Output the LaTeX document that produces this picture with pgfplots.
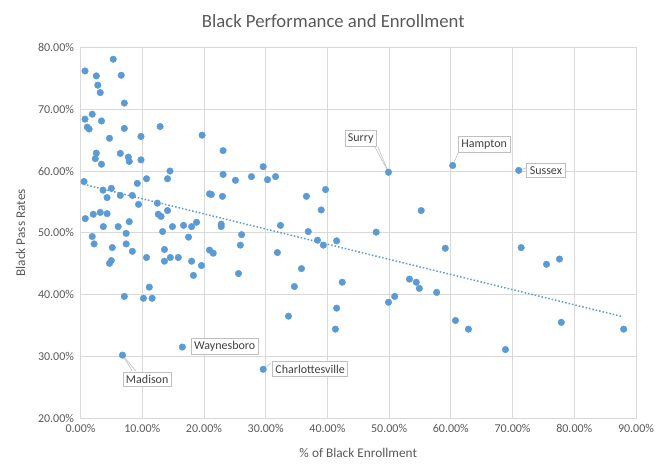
\documentclass[border=0pt]{standalone}
\usepackage{pgfplots}
\pgfplotsset{compat=1.18}
\usepackage{fontspec}
\setmainfont{Carlito}
\definecolor{pt}{HTML}{5B9BD5}
\definecolor{txt}{HTML}{595959}
\definecolor{grd}{HTML}{D9D9D9}
\definecolor{lblb}{HTML}{BFBFBF}
\definecolor{lblt}{HTML}{404040}
\begin{document}
\begin{tikzpicture}[x=1bp,y=1bp]
\useasboundingbox (0,0) rectangle (667,474);
\begin{axis}[
  at={(80.5bp,55.9bp)}, anchor=south west,
  scale only axis, width=555.5bp, height=370.6bp,
  xmin=0, xmax=90, ymin=20, ymax=80,
  xtick={0,10,...,90}, ytick={20,30,...,80},
  xticklabel={\pgfmathprintnumber[fixed,fixed zerofill,precision=2]{\tick}\%},
  yticklabel={\pgfmathprintnumber[fixed,fixed zerofill,precision=2]{\tick}\%},
  /pgf/number format/assume math mode=true,
  ticklabel style={font=\fontsize{12bp}{14bp}\selectfont, text=txt},
  xticklabel style={yshift=-3bp},
  yticklabel style={xshift=-3bp},
  major tick length=0pt,
  grid=major, major grid style={grd, line width=0.75bp},
  axis line style={grd, line width=0.75bp},
  clip=false,
  title={Black Performance and Enrollment},
  title style={font=\fontsize{18.7bp}{22bp}\selectfont, text=txt, at={(0.455,1)}, yshift=10bp},
  xlabel={\% of Black Enrollment},
  ylabel={Black Pass Rates},
  label style={font=\fontsize{13.3bp}{16bp}\selectfont, text=txt},
  xlabel style={yshift=-9bp},
  ylabel style={yshift=6bp},
]
\addplot[only marks, mark=*, mark size=3.3bp, mark options={fill=pt, draw=pt}] coordinates {
(5.3,78.1) (0.73,76.2) (2.56,75.4) (6.6,75.5) (2.8,73.9) (3.2,72.7) (7.1,71.0)
(1.9,69.2) (0.73,68.4) (3.4,68.1) (1.1,67.1) (1.4,66.8) (7.1,66.9) (12.9,67.2)
(9.8,65.6) (19.7,65.8) (4.7,65.3) (2.56,62.9) (2.4,62.0) (6.45,62.85) (7.75,62.25)
(7.9,61.55) (9.8,61.8) (3.4,61.1) (14.5,60.0) (0.57,58.3) (10.7,58.75) (9.2,58.0)
(14.1,58.75) (3.65,56.9) (5.0,57.2) (4.3,55.7) (6.45,56.05) (8.4,56.05) (9.4,54.6)
(12.45,54.8) (12.6,53.0) (13.05,52.65) (14.1,53.6) (0.78,52.3) (2.07,53.0) (3.2,53.3)
(4.3,53.1) (3.7,51.0) (6.1,51.0) (7.9,51.8) (7.4,49.9) (13.3,50.2) (14.9,51.0)
(16.7,51.2) (18.0,51.0) (18.8,51.7) (17.5,49.3) (1.9,49.4) (2.2,48.2) (5.15,47.6)
(7.4,48.2) (8.4,47.0) (13.6,47.3) (10.7,46.0) (13.6,45.4) (14.55,46.0) (15.85,46.0)
(18.0,45.4) (19.6,44.7) (18.3,43.1) (5.0,45.5) (4.7,45.05) (11.15,41.2) (7.1,39.7)
(10.2,39.4) (11.6,39.4) (20.9,56.3) (20.9,47.2) (21.5,46.7) (6.8,30.2) (16.5,31.5)
(23.1,63.3) (29.6,60.7) (23.1,59.45) (25.1,58.5) (27.7,59.1) (30.3,58.6) (31.6,59.1)
(21.2,56.2) (23.0,55.9) (36.6,55.9) (39.7,57.0) (39.0,53.7) (22.8,51.4) (22.8,51.0)
(26.1,49.7) (32.4,51.2) (36.9,50.2) (38.4,48.8) (41.5,48.7) (25.9,48.0) (31.9,46.8)
(39.35,48.0) (25.6,43.4) (35.8,44.2) (34.65,41.3) (42.4,42.0) (41.5,37.8) (33.7,36.5)
(41.3,34.4) (29.6,27.9)
(49.9,59.8) (60.3,60.9) (55.2,53.6) (47.9,50.1) (59.1,47.5) (53.3,42.5) (54.4,42.0)
(54.9,41.0) (57.7,40.35) (50.9,39.7) (49.9,38.75) (60.75,35.8) (62.85,34.4)
(71.0,60.1) (71.4,47.6) (75.5,44.9) (77.6,45.75) (77.9,35.5) (88.0,34.4) (68.85,31.1)
};
\addplot[pt, line width=1.5bp, dotted, no marks] coordinates {(0.5,57.85) (87.9,36.4)};
% data labels
\tikzset{dl/.style={draw=lblb, fill=white, text=lblt, font=\fontsize{12bp}{14bp}\selectfont, inner sep=3bp, line width=0.6bp},
         ll/.style={draw=lblb, line width=0.6bp}}
\draw[ll] (axis cs:47.7,63.9) -- (axis cs:49.9,59.8);
\draw[ll] (axis cs:48.2,63.9) -- (axis cs:49.9,59.8);
\node[dl] at (axis cs:45.4,65.3) {Surry};
\draw[ll] (axis cs:61.2,63.0) -- (axis cs:60.3,60.9);
\node[dl] at (axis cs:65.4,64.3) {Hampton};
\draw[ll] (axis cs:72.2,60.5) -- (axis cs:71.0,60.1);
\node[dl] at (axis cs:75.4,60.1) {Sussex};
\node[dl] at (axis cs:23.35,31.6) {Waynesboro};
\draw[ll] (axis cs:30.8,28.9) -- (axis cs:29.6,27.9);
\node[dl] at (axis cs:37.2,27.95) {Charlottesville};
\draw[ll] (axis cs:6.8,30.2) -- (axis cs:8.4,27.6);
\draw[ll] (axis cs:6.8,30.2) -- (axis cs:9.0,27.6);
\node[dl] at (axis cs:10.8,26.25) {Madison};
\end{axis}
\end{tikzpicture}
\end{document}
